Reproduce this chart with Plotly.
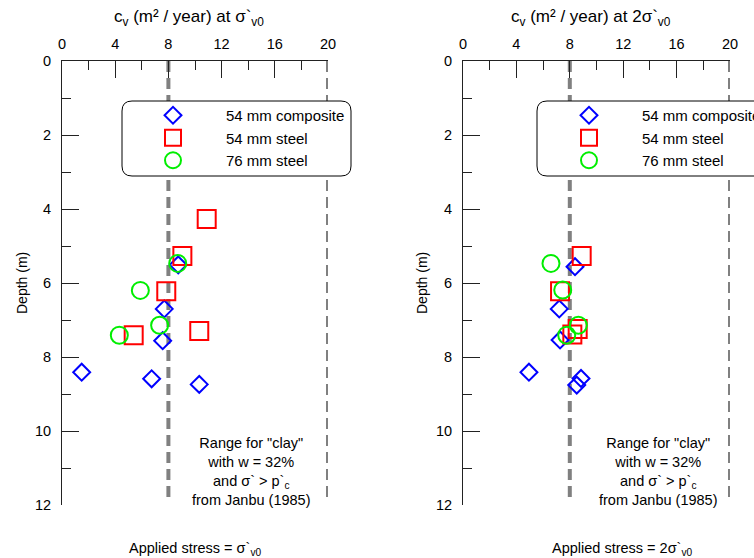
import plotly.graph_objects as go

# ---- data: c_v at sigma'v0 (left panel) ----
comp_depth_1 = [5.51, 6.70, 7.56, 8.41, 8.59, 8.74]
comp_cv_1 = [8.74, 7.69, 7.57, 1.48, 6.74, 10.32]
steel54_depth_1 = [4.27, 5.27, 6.22, 7.30, 7.41]
steel54_cv_1 = [10.88, 9.05, 7.84, 10.32, 5.39]
steel76_depth_1 = [5.47, 6.20, 7.14, 7.41]
steel76_cv_1 = [8.70, 5.89, 7.34, 4.31]

# ---- data: c_v at 2*sigma'v0 (right panel) ----
comp_depth_2 = [5.56, 6.70, 7.54, 8.41, 8.58, 8.76]
comp_cv_2 = [8.39, 7.21, 7.27, 4.94, 8.84, 8.52]
steel54_depth_2 = [5.27, 6.22, 7.24, 7.39]
steel54_cv_2 = [8.89, 7.27, 8.59, 8.19]
steel76_depth_2 = [5.47, 6.19, 7.14, 7.41]
steel76_cv_2 = [6.59, 7.47, 8.64, 7.77]

# Janbu (1985) range for clay
janbu_range = [8, 20]
janbu_depth_end = 11.85

x_ticks = [0, 4, 8, 12, 16, 20]
y_ticks = [0, 2, 4, 6, 8, 10, 12]
series_names = ["54 mm composite", "54 mm steel", "76 mm steel"]

FONT = "Liberation Sans, Arial, sans-serif"
W, H = 754, 558
FS = 15
TICK_FS = 14.5

styles = [
    dict(symbol="diamond-open", size=13, color="#0000FF"),
    dict(symbol="square-open", size=18, color="#FF0000"),
    dict(symbol="circle-open", size=17, color="#00EE00"),
]

fig = go.Figure()

panels = [
    ("x", "y", "legend",
     [(comp_cv_1, comp_depth_1), (steel54_cv_1, steel54_depth_1), (steel76_cv_1, steel76_depth_1)]),
    ("x2", "y2", "legend2",
     [(comp_cv_2, comp_depth_2), (steel54_cv_2, steel54_depth_2), (steel76_cv_2, steel76_depth_2)]),
]

for xa, ya, lg, sets in panels:
    for name, st, (xv, yv) in zip(series_names, styles, sets):
        fig.add_trace(go.Scatter(
            x=xv, y=yv, mode="markers", name=name, xaxis=xa, yaxis=ya,
            legend=lg, cliponaxis=False,
            marker=dict(symbol=st["symbol"], size=st["size"], color=st["color"],
                        line=dict(color=st["color"], width=2)),
        ))

# panel extents in pixels
px_left = [(62, 328), (463, 730)]
py_top, py_bot = 61, 505

def xdom(a, b):
    return [a / W, b / W]

ydom = [1 - py_bot / H, 1 - py_top / H]

axis_common = dict(
    side="top", range=[0, 20], tickvals=x_ticks, ticks="inside", ticklen=17,
    tickcolor="#222", showline=True, linecolor="#222", linewidth=1,
    showgrid=False, zeroline=False, ticklabelstandoff=5, automargin=False,
    tickfont=dict(family=FONT, size=TICK_FS, color="black"),
    minor=dict(dtick=2, ticks="inside", ticklen=9, tickcolor="#222", showgrid=False),
)
yaxis_common = dict(
    range=[12, 0], tickvals=y_ticks, ticks="inside", ticklen=17,
    tickcolor="#222", showline=True, linecolor="#222", linewidth=1,
    showgrid=False, zeroline=False, ticklabelstandoff=7, automargin=False,
    tickfont=dict(family=FONT, size=TICK_FS, color="black"),
    minor=dict(dtick=1, ticks="inside", ticklen=9, tickcolor="#222", showgrid=False),
)

fig.update_layout(
    width=W, height=H,
    margin=dict(l=0, r=0, t=0, b=0, autoexpand=False),
    paper_bgcolor="white", plot_bgcolor="white",
    font=dict(family=FONT, size=FS, color="black"),
    xaxis=dict(domain=xdom(*px_left[0]), anchor="y", **axis_common),
    yaxis=dict(domain=ydom, anchor="x", **yaxis_common),
    xaxis2=dict(domain=xdom(*px_left[1]), anchor="y2", **axis_common),
    yaxis2=dict(domain=ydom, anchor="x2", **yaxis_common),
    legend=dict(x=120 / W, y=1 - 99 / H, xanchor="left", yanchor="top",
                bgcolor="rgba(0,0,0,0)", borderwidth=0, itemwidth=96,
                font=dict(family=FONT, size=FS)),
    legend2=dict(x=536 / W, y=1 - 99 / H, xanchor="left", yanchor="top",
                 bgcolor="rgba(0,0,0,0)", borderwidth=0, itemwidth=96,
                 font=dict(family=FONT, size=FS)),
)

# dashed Janbu range lines
for xa, ya in [("x", "y"), ("x2", "y2")]:
    for xv in janbu_range:
        fig.add_shape(type="line", xref=xa, yref=ya, x0=xv, x1=xv, y0=0, y1=janbu_depth_end,
                      line=dict(color="#808080", width=4, dash="11px,6px"), layer="below")

# rounded legend boxes
def rounded_box(x0, y0, x1, y1, r=10):
    X = lambda v: v / W
    Y = lambda v: 1 - v / H
    return (f"M {X(x0 + r)},{Y(y0)} L {X(x1 - r)},{Y(y0)} Q {X(x1)},{Y(y0)} {X(x1)},{Y(y0 + r)} "
            f"L {X(x1)},{Y(y1 - r)} Q {X(x1)},{Y(y1)} {X(x1 - r)},{Y(y1)} "
            f"L {X(x0 + r)},{Y(y1)} Q {X(x0)},{Y(y1)} {X(x0)},{Y(y1 - r)} "
            f"L {X(x0)},{Y(y0 + r)} Q {X(x0)},{Y(y0)} {X(x0 + r)},{Y(y0)} Z")

for bx0, bx1 in [(122, 351), (537, 766)]:
    fig.add_shape(type="path", xref="paper", yref="paper",
                  path=rounded_box(bx0, 101, bx1, 176),
                  line=dict(color="black", width=1), fillcolor="white", layer="above")

def add_text(x, y, text, size=FS, angle=0):
    fig.add_annotation(x=x / W, y=1 - y / H, xref="paper", yref="paper", text=text,
                       showarrow=False, xanchor="center", yanchor="middle",
                       textangle=angle, font=dict(family=FONT, size=size, color="black"))

add_text(189, 18, "c<sub>v</sub> (m² / year) at σ`<sub>v0</sub>", size=17)
add_text(591, 18, "c<sub>v</sub> (m² / year) at 2σ`<sub>v0</sub>", size=17)
add_text(22, 283, "Depth (m)", size=14, angle=-90)
add_text(422, 283, "Depth (m)", size=14, angle=-90)

janbu_text = 'Range for "clay"<br>with w = 32%<br>and σ` > p`<sub>c</sub><br>from Janbu (1985)'
add_text(251, 471, janbu_text, size=14.5)
add_text(658, 471, janbu_text, size=14.5)

add_text(195, 549, "Applied stress = σ`<sub>v0</sub>", size=14.5)
add_text(622, 549, "Applied stress = 2σ`<sub>v0</sub>", size=14.5)

fig.write_html("out.html")
